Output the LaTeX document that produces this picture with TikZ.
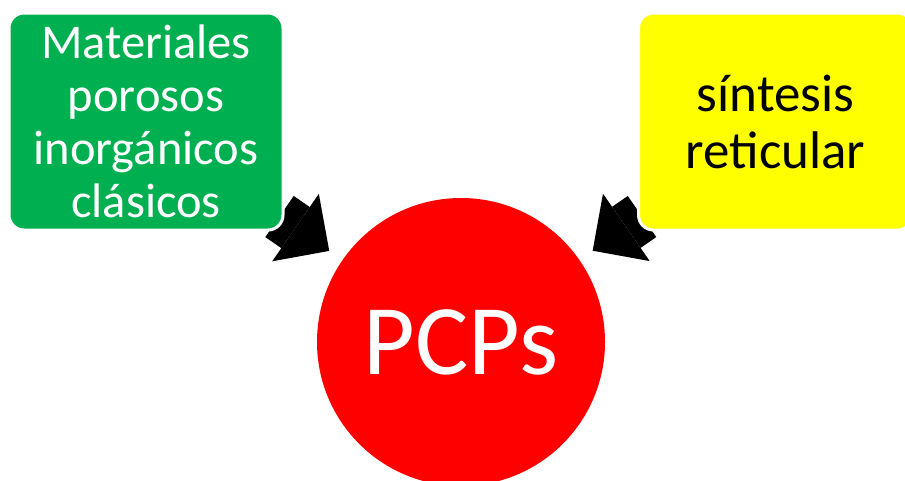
\documentclass[tikz,border=0pt]{standalone}
\usepackage{fontspec}
\setmainfont{Carlito}
\usetikzlibrary{arrows.meta,backgrounds}

\definecolor{verde}{HTML}{00B050}
\definecolor{amarillo}{HTML}{FFFF00}
\definecolor{rojo}{HTML}{FF0000}

\tikzset{
  caja/.style={rectangle, rounded corners=15pt, draw=white, line width=3pt,
    minimum width=274pt, minimum height=217pt, align=center, inner sep=0pt},
  flecha/.style={line width=50pt, black, shorten >=16pt,
    -{Triangle[length=41pt, width=82pt, line width=0pt]}}
}

\begin{document}
\begin{tikzpicture}[x=1pt, y=-1pt]
  \useasboundingbox (0,0) rectangle (905,480);
  \node[caja, fill=verde, text=white,
    font=\fontsize{48.5}{53}\selectfont] (clasicos) at (146,121.5)
    {Materiales\\porosos\\inorgánicos\\clásicos};
  \node[caja, fill=amarillo, text=black,
    font=\fontsize{53}{57}\selectfont] (reticular) at (775.5,121.5)
    {síntesis\\reticular};
  \node[circle, fill=rojo, minimum size=288pt, inner sep=0pt, text=white,
    font=\fontsize{100}{120}\selectfont] (pcps) at (461,342) {PCPs};
  \begin{scope}[on background layer]
    \draw[flecha] ([shift={(-5,-15)}]clasicos.south east) -- (pcps);
    \draw[flecha] ([shift={(5,-15)}]reticular.south west) -- (pcps);
  \end{scope}
\end{tikzpicture}
\end{document}
